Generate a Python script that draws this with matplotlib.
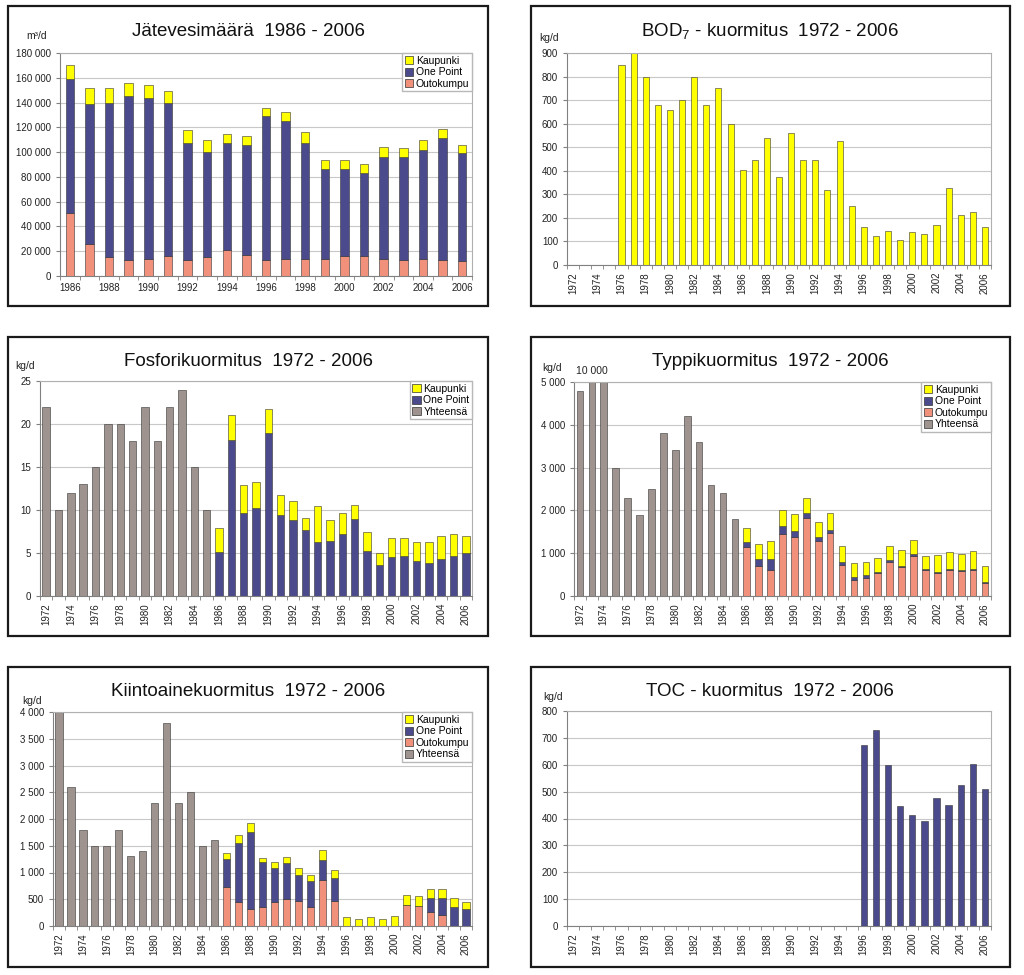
import numpy as np
import matplotlib
matplotlib.use('Agg')
import matplotlib.pyplot as plt
from matplotlib.patches import Rectangle, Patch
from matplotlib.ticker import FuncFormatter

plt.rcParams['font.family'] = ['Liberation Sans', 'DejaVu Sans']
plt.rcParams['mathtext.fontset'] = 'custom'
plt.rcParams['mathtext.rm'] = 'Liberation Sans'
plt.rcParams['mathtext.it'] = 'Liberation Sans:italic'

W, H = 1024, 975

# ---------------- data ----------------
years_long = list(range(1972, 2007))
years_short = list(range(1986, 2007))

# Jätevesimäärä 1986-2006 (m3/d)
jv_outokumpu = [51000, 26000, 15000, 13000, 14000, 16000, 13000, 15000, 21000, 17000, 13000,
                14000, 14000, 14000, 16000, 16000, 14000, 13000, 14000, 13000, 12000]
jv_onepoint = [108000, 113000, 125000, 132000, 130000, 124000, 94000, 85000, 86000, 89000, 116000,
               111000, 93000, 72000, 70000, 67000, 82000, 83000, 88000, 98000, 87000]
jv_kaupunki = [11000, 13000, 12000, 11000, 10000, 9000, 11000, 10000, 8000, 7000, 7000,
               7000, 9000, 8000, 8000, 7000, 8000, 7000, 8000, 8000, 7000]

# BOD7 1976-2006 (kg/d)
bod_years = list(range(1976, 2007))
bod_values = [850, 900, 800, 680, 660, 700, 800, 680, 750, 600, 405, 445, 540, 375, 560, 445,
              445, 318, 528, 252, 162, 122, 143, 105, 139, 130, 168, 326, 212, 227, 160]

# Fosfori (kg/d)
yht_years = list(range(1972, 1986))
p_yhteensa = [22, 10, 12, 13, 15, 20, 20, 18, 22, 18, 22, 24, 15, 10]
p_onepoint = [5.1, 18.1, 9.7, 10.2, 19.0, 9.4, 8.8, 7.7, 6.3, 6.4, 7.2, 8.9, 5.2, 3.6, 4.5,
              4.6, 4.1, 3.8, 4.3, 4.7, 5.0]
p_kaupunki = [2.8, 3.0, 3.2, 3.0, 2.8, 2.4, 2.2, 1.4, 4.2, 2.4, 2.5, 1.7, 2.3, 1.4, 2.2,
              2.1, 2.2, 2.5, 2.7, 2.5, 2.0]

# Typpi (kg/d)
n_yhteensa = [4800, 10000, 5000, 3000, 2300, 1900, 2500, 3800, 3400, 4200, 3600, 2600, 2400, 1800]
n_outokumpu = [1140, 700, 600, 1460, 1380, 1830, 1290, 1470, 720, 370, 420, 530, 800, 680, 940,
               600, 530, 600, 580, 610, 300]
n_onepoint = [120, 170, 260, 180, 140, 100, 80, 80, 70, 70, 60, 40, 40, 20, 50, 30, 20, 30, 30, 30, 20]
n_kaupunki = [330, 350, 430, 380, 390, 350, 370, 380, 370, 340, 310, 310, 320, 370, 330, 300,
              410, 390, 380, 400, 370]

# Kiintoaine (kg/d)
s_yhteensa = [4000, 2600, 1800, 1500, 1500, 1800, 1300, 1400, 2300, 3800, 2300, 2500, 1500, 1600]
s_outokumpu = [720, 450, 320, 350, 450, 500, 470, 350, 860, 470, 0, 0, 0, 0, 0, 400, 380, 270, 200, 0, 0]
s_onepoint = [530, 1110, 1440, 840, 640, 670, 490, 500, 380, 430, 0, 0, 0, 0, 0, 0, 0, 250, 320, 350, 320]
s_kaupunki = [120, 140, 170, 80, 110, 120, 120, 100, 180, 150, 160, 130, 170, 140, 180, 180, 180,
              180, 180, 170, 130]

# TOC 1996-2006 (kg/d)
toc_years = list(range(1996, 2007))
toc_values = [673, 730, 600, 447, 412, 390, 475, 450, 525, 602, 508]

# ---------------- style ----------------
C_YEL = '#FFFF00'
C_NAVY = '#4A4A8C'
C_SAL = '#F2917B'
C_GRAY = '#9E938E'
EC = '#333333'

fig = plt.figure(figsize=(W / 100, H / 100), dpi=100)


def add_box(x0, y0, x1, y1):
    fig.patches.append(Rectangle((x0 / W, 1 - y1 / H), (x1 - x0) / W, (y1 - y0) / H,
                                 transform=fig.transFigure, fill=False, ec='#1a1a1a', lw=1.6))


def make_ax(x0, y0, x1, y1):
    return fig.add_axes([x0 / W, 1 - y1 / H, (x1 - x0) / W, (y1 - y0) / H])


def ftext(x, y, s, **kw):
    fig.text(x / W, 1 - y / H, s, **kw)


fmt = FuncFormatter(lambda v, p: f'{int(round(v)):,}'.replace(',', ' '))


def style(ax, years, ymax, ystep, rotate=True):
    n = len(years)
    ax.set_xlim(-0.5, n - 0.5)
    ax.set_ylim(0, ymax)
    ax.set_yticks(np.arange(0, ymax + ystep / 2, ystep))
    ax.yaxis.set_major_formatter(fmt)
    ax.set_xticks(range(0, n, 2))
    ax.set_xticklabels([str(y) for y in years[::2]], rotation=90 if rotate else 0)
    ax.set_xticks(np.arange(-0.5, n), minor=True)
    ax.tick_params(axis='x', which='major', length=0, labelsize=7, pad=5, colors='#222222')
    ax.tick_params(axis='x', which='minor', length=3, color='#808080')
    ax.tick_params(axis='y', length=3, labelsize=7, color='#808080', labelcolor='#222222')
    ax.grid(axis='y', color='#C8C8C8', lw=0.8)
    ax.set_axisbelow(True)
    for s in ['top', 'right']:
        ax.spines[s].set_color('#B0B0B0')
    for s in ['left', 'bottom']:
        ax.spines[s].set_color('#808080')


def legend(ax, items):
    handles = [Patch(facecolor=c, edgecolor=EC, lw=0.5, label=l) for l, c in items]
    ax.legend(handles=handles, loc='upper right', bbox_to_anchor=(1, 1), borderaxespad=0,
              fontsize=7.5, frameon=True, fancybox=False, edgecolor='#B8B8B8',
              handlelength=0.8, handleheight=0.8, handletextpad=0.25, borderpad=0.25,
              labelspacing=0.15, framealpha=1)


title_kw = dict(ha='center', va='center', fontsize=13.5, color='#111111')
unit_kw = dict(ha='center', va='center', fontsize=7.5, color='#222222')

# ---------------- panel 1 ----------------
add_box(8, 6, 488, 306)
ax = make_ax(60, 53, 472, 276)
x = np.arange(len(years_short))
w = 0.43
b1 = np.array(jv_outokumpu)
b2 = b1 + np.array(jv_onepoint)
ax.bar(x, jv_outokumpu, w, color=C_SAL, edgecolor=EC, lw=0.4)
ax.bar(x, jv_onepoint, w, bottom=b1, color=C_NAVY, edgecolor=EC, lw=0.4)
ax.bar(x, jv_kaupunki, w, bottom=b2, color=C_YEL, edgecolor=EC, lw=0.4)
style(ax, years_short, 180000, 20000, rotate=False)
legend(ax, [('Kaupunki', C_YEL), ('One Point', C_NAVY), ('Outokumpu', C_SAL)])
ftext(248, 31, 'Jätevesimäärä  1986 - 2006', **title_kw)
ftext(37, 36, 'm³/d', **unit_kw)

# ---------------- panel 2 ----------------
add_box(531, 6, 1010, 306)
ax = make_ax(567, 53, 991, 265)
xb = [years_long.index(y) for y in bod_years]
ax.bar(xb, bod_values, 0.5, color=C_YEL, edgecolor=EC, lw=0.4)
style(ax, years_long, 900, 100)
ftext(770, 31, r'BOD$_7$ - kuormitus  1972 - 2006', **title_kw)
ftext(549, 38, 'kg/d', **unit_kw)

# ---------------- panel 3 ----------------
add_box(8, 337, 488, 636)
ax = make_ax(40, 381, 472, 596)
xy = [years_long.index(y) for y in yht_years]
xs = [years_long.index(y) for y in years_short]
w = 0.6
ax.bar(xy, p_yhteensa, w, color=C_GRAY, edgecolor=EC, lw=0.4)
ax.bar(xs, p_onepoint, w, color=C_NAVY, edgecolor=EC, lw=0.4)
ax.bar(xs, p_kaupunki, w, bottom=p_onepoint, color=C_YEL, edgecolor=EC, lw=0.4)
style(ax, years_long, 25, 5)
legend(ax, [('Kaupunki', C_YEL), ('One Point', C_NAVY), ('Yhteensä', C_GRAY)])
ftext(248, 362, 'Fosforikuormitus  1972 - 2006', **title_kw)
ftext(25, 366, 'kg/d', **unit_kw)

# ---------------- panel 4 ----------------
add_box(531, 337, 1010, 636)
ax = make_ax(574, 382, 991, 596)
w = 0.56
b1 = np.array(n_outokumpu)
b2 = b1 + np.array(n_onepoint)
ax.bar(xy, n_yhteensa, w, color=C_GRAY, edgecolor=EC, lw=0.4)
ax.bar(xs, n_outokumpu, w, color=C_SAL, edgecolor=EC, lw=0.4)
ax.bar(xs, n_onepoint, w, bottom=b1, color=C_NAVY, edgecolor=EC, lw=0.4)
ax.bar(xs, n_kaupunki, w, bottom=b2, color=C_YEL, edgecolor=EC, lw=0.4)
style(ax, years_long, 5000, 1000)
legend(ax, [('Kaupunki', C_YEL), ('One Point', C_NAVY), ('Outokumpu', C_SAL), ('Yhteensä', C_GRAY)])
i_max = int(np.argmax(n_yhteensa))
ax.text(xy[i_max], 5150, fmt(n_yhteensa[i_max]), ha='center', va='bottom', fontsize=7.5,
        color='#222222', clip_on=False)
ftext(770, 362, 'Typpikuormitus  1972 - 2006', **title_kw)
ftext(552, 368, 'kg/d', **unit_kw)

# ---------------- panel 5 ----------------
add_box(8, 667, 488, 967)
ax = make_ax(53, 712, 472, 926)
w = 0.6
b1 = np.array(s_outokumpu)
b2 = b1 + np.array(s_onepoint)
ax.bar(xy, s_yhteensa, w, color=C_GRAY, edgecolor=EC, lw=0.4)
ax.bar(xs, s_outokumpu, w, color=C_SAL, edgecolor=EC, lw=0.4)
ax.bar(xs, s_onepoint, w, bottom=b1, color=C_NAVY, edgecolor=EC, lw=0.4)
ax.bar(xs, s_kaupunki, w, bottom=b2, color=C_YEL, edgecolor=EC, lw=0.4)
style(ax, years_long, 4000, 500)
legend(ax, [('Kaupunki', C_YEL), ('One Point', C_NAVY), ('Outokumpu', C_SAL), ('Yhteensä', C_GRAY)])
ftext(248, 692, 'Kiintoainekuormitus  1972 - 2006', **title_kw)
ftext(32, 701, 'kg/d', **unit_kw)

# ---------------- panel 6 ----------------
add_box(531, 667, 1010, 967)
ax = make_ax(567, 711, 991, 926)
xt = [years_long.index(y) for y in toc_years]
ax.bar(xt, toc_values, 0.52, color=C_NAVY, edgecolor=EC, lw=0.4)
style(ax, years_long, 800, 100)
ftext(770, 692, 'TOC - kuormitus  1972 - 2006', **title_kw)
ftext(553, 697, 'kg/d', **unit_kw)

fig.savefig('out.png', dpi=100, facecolor='white')
